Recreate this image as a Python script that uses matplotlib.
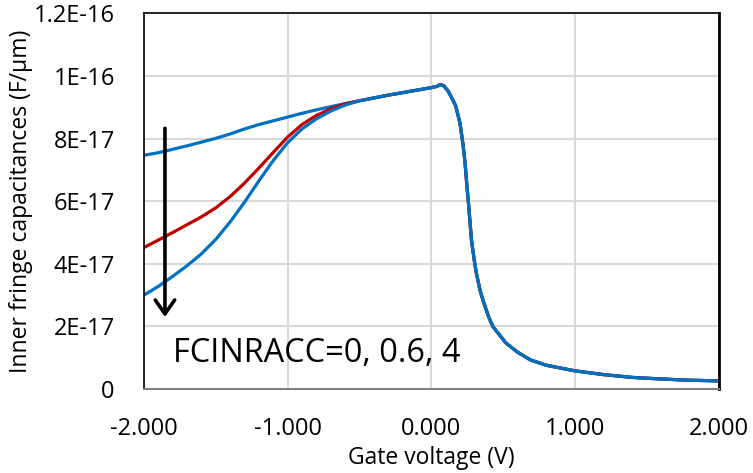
import numpy as np
import matplotlib.pyplot as plt

plt.rcParams['font.family'] = ['Open Sans', 'DejaVu Sans']

# gate voltage (V) where the three curves differ
vg_left = [-2.0, -1.9, -1.8, -1.7, -1.6, -1.5, -1.4, -1.3, -1.2, -1.1, -1.0, -0.9, -0.8, -0.7, -0.6, -0.5]
# inner fringe capacitance (x1e-17 F/um) for FCINRACC = 0, 0.6, 4
cf_acc0 = [7.47, 7.55, 7.66, 7.77, 7.89, 8.01, 8.15, 8.31, 8.45, 8.57, 8.69, 8.81, 8.92, 9.02, 9.12, 9.21]
cf_acc06 = [4.52, 4.76, 5.00, 5.25, 5.50, 5.79, 6.15, 6.58, 7.06, 7.56, 8.05, 8.45, 8.74, 8.95, 9.11, 9.21]
cf_acc4 = [3.00, 3.28, 3.60, 3.94, 4.32, 4.78, 5.34, 5.97, 6.65, 7.30, 7.87, 8.31, 8.63, 8.88, 9.07, 9.21]

# shared part of all three curves
vg_tail = [-0.4, -0.3, -0.2, -0.1, 0.0, 0.04, 0.065, 0.09, 0.12, 0.14, 0.17, 0.20, 0.22,
           0.235, 0.25, 0.26, 0.28, 0.30, 0.315, 0.34, 0.36, 0.40, 0.43, 0.48, 0.52,
           0.60, 0.69, 0.80, 1.00, 1.20, 1.40, 1.60, 1.80, 2.00]
cf_tail = [9.30, 9.39, 9.47, 9.55, 9.63, 9.67, 9.73, 9.68, 9.50, 9.33, 9.05, 8.50, 7.85,
           7.25, 6.40, 5.90, 4.76, 4.10, 3.68, 3.15, 2.84, 2.30, 1.99, 1.70, 1.47,
           1.18, 0.93, 0.76, 0.58, 0.46, 0.37, 0.32, 0.28, 0.26]

x_ticks = [-2.0, -1.0, 0.0, 1.0, 2.0]
x_ticklabels = ['-2.000', '-1.000', '0.000', '1.000', '2.000']
y_ticks = [0, 2e-17, 4e-17, 6e-17, 8e-17, 1e-16, 1.2e-16]
y_ticklabels = ['0', '2E-17', '4E-17', '6E-17', '8E-17', '1E-16', '1.2E-16']

vg = np.array(vg_left + vg_tail)
blue = '#0070C0'
red = '#C00000'

fig = plt.figure(figsize=(7.53, 4.73), dpi=100, facecolor='white')
ax = fig.add_axes([0.1912, 0.1776, 0.7630, 0.7939])

for cf, col in [(cf_acc0, blue), (cf_acc06, red), (cf_acc4, blue)]:
    ax.plot(vg, np.array(cf + cf_tail) * 1e-17, color=col, lw=2.3,
            solid_capstyle='round', solid_joinstyle='round')

ax.set_xlim(-2, 2)
ax.set_ylim(0, 1.2e-16)
ax.set_xticks(x_ticks)
ax.set_xticklabels(x_ticklabels)
ax.set_yticks(y_ticks)
ax.set_yticklabels(y_ticklabels)
ax.tick_params(length=0, labelsize=17, colors='black')
ax.tick_params(axis='y', pad=21)
ax.tick_params(axis='x', pad=20)
ax.grid(True, color='#d9d9d9', lw=1.5)
ax.set_axisbelow(True)

for s in ['top', 'left']:
    ax.spines[s].set_color('black')
    ax.spines[s].set_linewidth(1.2)
ax.spines['right'].set_color('black')
ax.spines['right'].set_linewidth(2.0)
ax.spines['bottom'].set_color('#808080')
ax.spines['bottom'].set_linewidth(1.5)

ax.set_xlabel('Gate voltage (V)', fontsize=16.5, va='center')
ax.set_ylabel('Inner fringe capacitances (F/\u00b5m)', fontsize=16.5, va='center')
ax.xaxis.set_label_coords(0.5, -0.185)
ax.yaxis.set_label_coords(-0.214, 0.5)

# arrow showing increasing FCINRACC
ax.annotate('', xy=(-1.854, 2.3e-17), xytext=(-1.854, 8.33e-17),
            arrowprops=dict(arrowstyle='->,head_length=1.0,head_width=0.7',
                            color='black', lw=2.6, shrinkA=0, shrinkB=0))
ax.text(-1.80, 0.87e-17, 'FCINRACC=0, 0.6, 4', fontsize=23.4, va='baseline', ha='left')

fig.savefig('out.png', dpi=100)
